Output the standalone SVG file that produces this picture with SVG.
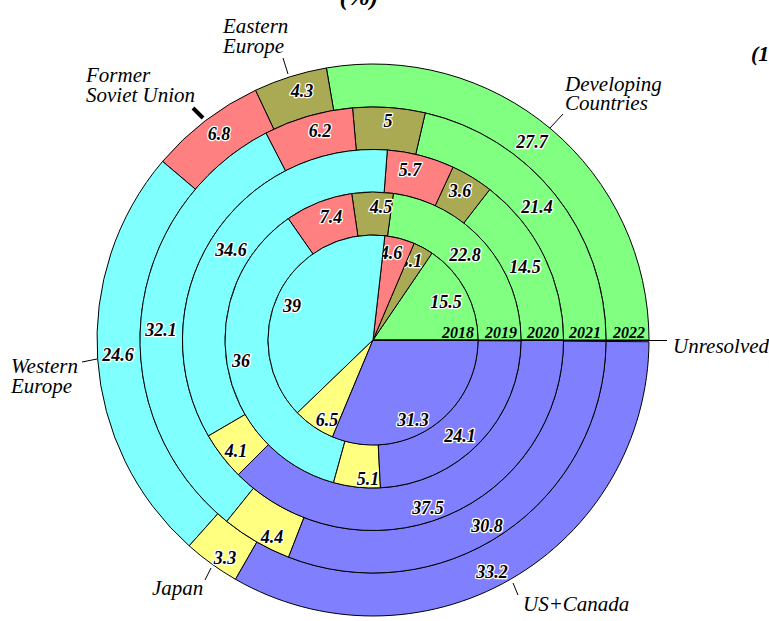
<svg xmlns="http://www.w3.org/2000/svg" width="769" height="621" viewBox="0 0 769 621">
<style>
.s{stroke:#000;stroke-width:1;stroke-linejoin:round}
.g{fill:#80ff80}.o{fill:#aaaa55}.r{fill:#ff8080}.c{fill:#80ffff}.yw{fill:#ffff80}.b{fill:#8080ff}
.n{font-family:"Liberation Serif","Times New Roman",serif;font-size:18px;font-weight:bold;font-style:italic;text-anchor:middle;fill:#000;stroke:#fff;stroke-width:2.5px;paint-order:stroke;stroke-linejoin:round}
.yr{font-family:"Liberation Serif","Times New Roman",serif;font-size:16px;font-weight:bold;font-style:italic;text-anchor:end;fill:#000}
.l{font-family:"Liberation Serif","Times New Roman",serif;font-size:21px;font-style:italic;fill:#000}
.t{font-family:"Liberation Serif","Times New Roman",serif;font-weight:bold;font-style:italic;fill:#000}
.ld{stroke:#000;stroke-width:1;fill:none}
</style>
<rect width="769" height="621" fill="#fff"/>
<text class="t" x="359" y="5" font-size="26" text-anchor="middle">(%)</text>
<text class="t" x="751" y="61" font-size="22">(1</text>

<g id="ring2022">
<path class="s g" d="M649 340 A276 276 0 0 0 326.38 67.97 L333.65 110.36 A233 233 0 0 1 606 340 Z"/>
<path class="s o" d="M326.38 67.97 A276 276 0 0 0 255.48 90.28 L273.79 129.18 A233 233 0 0 1 333.65 110.36 Z"/>
<path class="s r" d="M255.48 90.28 A276 276 0 0 0 162.58 161.40 L195.36 189.23 A233 233 0 0 1 273.79 129.18 Z"/>
<path class="s c" d="M162.58 161.40 A276 276 0 0 0 189.18 545.87 L217.82 513.79 A233 233 0 0 1 195.36 189.23 Z"/>
<path class="s yw" d="M189.18 545.87 A276 276 0 0 0 235.50 579.29 L256.92 542.01 A233 233 0 0 1 217.82 513.79 Z"/>
<path class="s b" d="M235.50 579.29 A276 276 0 0 0 648.99 341.73 L606 341.46 A233 233 0 0 1 256.92 542.01 Z"/>
<text class="n" x="532" y="148">27.7</text>
<text class="n" x="302" y="97">4.3</text>
<text class="n" x="219" y="140">6.8</text>
<text class="n" x="118" y="361">24.6</text>
<text class="n" x="225" y="564">3.3</text>
<text class="n" x="492" y="578">33.2</text>
</g>

<g id="ring2021">
<path class="s g" d="M606 340 A233 233 0 0 0 425.26 112.92 L415.73 154.34 A190.5 190.5 0 0 1 563.5 340 Z"/>
<path class="s o" d="M425.26 112.92 A233 233 0 0 0 352.54 107.91 L356.27 150.24 A190.5 190.5 0 0 1 415.73 154.34 Z"/>
<path class="s r" d="M352.54 107.91 A233 233 0 0 0 265.91 133.07 L285.45 170.82 A190.5 190.5 0 0 1 356.27 150.24 Z"/>
<path class="s c" d="M265.91 133.07 A233 233 0 0 0 226.75 521.37 L253.42 488.29 A190.5 190.5 0 0 1 285.45 170.82 Z"/>
<path class="s yw" d="M226.75 521.37 A233 233 0 0 0 288.58 557.18 L303.98 517.57 A190.5 190.5 0 0 1 253.42 488.29 Z"/>
<path class="s b" d="M288.58 557.18 A233 233 0 0 0 606 341.46 L563.5 341.20 A190.5 190.5 0 0 1 303.98 517.57 Z"/>
<text class="n" x="537" y="213">21.4</text>
<text class="n" x="388" y="127">5</text>
<text class="n" x="320" y="137">6.2</text>
<text class="n" x="161" y="336">32.1</text>
<text class="n" x="272" y="543">4.4</text>
<text class="n" x="487" y="532">30.8</text>
</g>

<g id="ring2020">
<path class="s g" d="M563.5 340 A190.5 190.5 0 0 0 489.76 189.49 L463.71 223.07 A148 148 0 0 1 521 340 Z"/>
<path class="s o" d="M489.76 189.49 A190.5 190.5 0 0 0 453.03 167.12 L435.17 205.69 A148 148 0 0 1 463.71 223.07 Z"/>
<path class="s r" d="M453.03 167.12 A190.5 190.5 0 0 0 387.34 150.03 L384.14 192.41 A148 148 0 0 1 435.17 205.69 Z"/>
<path class="s c" d="M387.34 150.03 A190.5 190.5 0 0 0 208.43 435.94 L245.14 414.53 A148 148 0 0 1 384.14 192.41 Z"/>
<path class="s yw" d="M208.43 435.94 A190.5 190.5 0 0 0 238.30 474.70 L268.35 444.65 A148 148 0 0 1 245.14 414.53 Z"/>
<path class="s b" d="M238.30 474.70 A190.5 190.5 0 0 0 563.5 340 L521 340 A148 148 0 0 1 268.35 444.65 Z"/>
<text class="n" x="525" y="273">14.5</text>
<text class="n" x="460" y="197">3.6</text>
<text class="n" x="410" y="176">5.7</text>
<text class="n" x="231" y="256">34.6</text>
<text class="n" x="236" y="457">4.1</text>
<text class="n" x="428" y="514">37.5</text>
</g>

<g id="ring2019">
<path class="s g" d="M521 340 A148 148 0 0 0 393.39 193.41 L387.47 236.00 A105 105 0 0 1 478 340 Z"/>
<path class="s o" d="M393.39 193.41 A148 148 0 0 0 351.69 193.54 L357.88 236.09 A105 105 0 0 1 387.47 236.00 Z"/>
<path class="s r" d="M351.69 193.54 A148 148 0 0 0 288.28 218.64 L312.90 253.90 A105 105 0 0 1 357.88 236.09 Z"/>
<path class="s c" d="M288.28 218.64 A148 148 0 0 0 333.50 482.63 L344.98 441.19 A105 105 0 0 1 312.90 253.90 Z"/>
<path class="s yw" d="M333.50 482.63 A148 148 0 0 0 380.43 487.81 L378.27 444.86 A105 105 0 0 1 344.98 441.19 Z"/>
<path class="s b" d="M380.43 487.81 A148 148 0 0 0 521.00 340.93 L478.00 340.66 A105 105 0 0 1 378.27 444.86 Z"/>
<text class="n" x="465" y="261">22.8</text>
<text class="n" x="381" y="213">4.5</text>
<text class="n" x="331" y="223">7.4</text>
<text class="n" x="241" y="367">36</text>
<text class="n" x="368" y="485">5.1</text>
<text class="n" x="460" y="442">24.1</text>
</g>

<g id="pie2018">
<path class="s g" d="M373 340 L478 340 A105 105 0 0 0 432.02 253.15 Z"/>
<text class="n" x="446" y="308">15.5</text>
<path class="s o" d="M373 340 L432.02 253.15 A105 105 0 0 0 414.10 243.38 Z"/>
<text class="n" x="411" y="267">3.1</text>
<path class="s r" d="M373 340 L414.10 243.38 A105 105 0 0 0 384.85 235.67 Z"/>
<text class="n" x="391" y="259">4.6</text>
<path class="s c" d="M373 340 L384.85 235.67 A105 105 0 0 0 297.38 412.85 Z"/>
<text class="n" x="292" y="312">39</text>
<path class="s yw" d="M373 340 L297.38 412.85 A105 105 0 0 0 332.51 436.88 Z"/>
<text class="n" x="327" y="426">6.5</text>
<path class="s b" d="M373 340 L332.51 436.88 A105 105 0 0 0 478 340 Z"/>
<text class="n" x="413" y="426">31.3</text>
</g>

<g id="years">
<text class="yr" x="474" y="338">2018</text>
<text class="yr" x="517" y="338">2019</text>
<text class="yr" x="559" y="338">2020</text>
<text class="yr" x="601" y="338">2021</text>
<text class="yr" x="645" y="338">2022</text>
</g>

<g id="connectors">
<line class="ld" x1="373" y1="340.5" x2="667" y2="340.5"/>
<line class="ld" x1="283" y1="58" x2="288" y2="74"/>
<line x1="193" y1="108" x2="203" y2="118" stroke="#000" stroke-width="4"/>
<line class="ld" x1="563" y1="114" x2="550" y2="128"/>
<line class="ld" x1="82" y1="362" x2="97" y2="359"/>
<line class="ld" x1="205" y1="580" x2="211" y2="568"/>
<line class="ld" x1="513" y1="583" x2="518" y2="595"/>
</g>

<g id="labels">
<text class="l" x="223" y="33">Eastern<tspan x="223" dy="20">Europe</tspan></text>
<text class="l" x="86" y="82">Former<tspan x="86" dy="20">Soviet Union</tspan></text>
<text class="l" x="565" y="91">Developing<tspan x="565" dy="19">Countries</tspan></text>
<text class="l" x="11" y="373">Western<tspan x="11" dy="20">Europe</tspan></text>
<text class="l" x="152" y="595">Japan</text>
<text class="l" x="523" y="611">US+Canada</text>
<text class="l" x="673" y="353">Unresolved</text>
</g>
</svg>
